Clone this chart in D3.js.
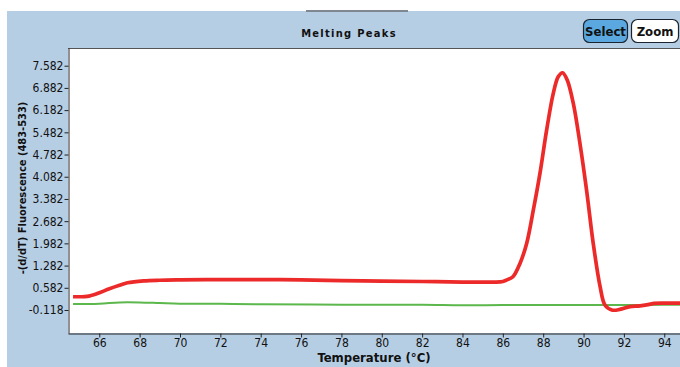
<!DOCTYPE html>
<html><head><meta charset="utf-8">
<script src="https://cdn.jsdelivr.net/npm/d3@7"></script>
<style>html,body{margin:0;padding:0;background:#fff;overflow:hidden}</style>
</head><body>
<script>
const xTicks = [66,68,70,72,74,76,78,80,82,84,86,88,90,92,94];
const yTickLabels = ["-0.118","0.582","1.282","1.982","2.682","3.382","4.082","4.782","5.482","6.182","6.882","7.582"];
const redTemp = [64.7,65.0,65.4,65.9,66.5,67.0,67.4,68.2,69,70,72,74,76,78,80,82,84,84.9,85.6,86.0,86.2,86.5,86.85,87.18,87.51,87.84,88.17,88.5,88.75,88.96,89.19,89.49,89.82,90.15,90.48,90.82,91.06,91.4,91.8,92.3,92.8,93.2,93.5,94.0,94.8];
const redVal = [0.30,0.30,0.31,0.40,0.55,0.66,0.74,0.80,0.82,0.83,0.84,0.84,0.83,0.81,0.79,0.78,0.76,0.76,0.76,0.78,0.83,0.93,1.35,1.98,3.03,4.19,5.55,6.71,7.24,7.36,7.13,6.40,5.14,3.66,1.98,0.62,0.04,-0.118,-0.10,-0.01,0.01,0.05,0.09,0.10,0.10];
const greenTemp = [64.7,66,67,68,69,70,72,74,78,82,84,86,88,90,92,94,94.8];
const greenVal = [0.07,0.08,0.12,0.12,0.10,0.08,0.08,0.06,0.05,0.05,0.03,0.04,0.04,0.04,0.04,0.05,0.05];

const W=680,H=367;
const svg=d3.select("body").append("svg").attr("width",W).attr("height",H);
const bg="#b6cee4";
svg.append("rect").attr("x",0).attr("y",0).attr("width",W).attr("height",H).attr("fill","#fff");
svg.append("rect").attr("x",7).attr("y",11).attr("width",W-7).attr("height",H-11).attr("fill",bg);
svg.append("line").attr("x1",306).attr("x2",408).attr("y1",11).attr("y2",11).attr("stroke","#7f8790").attr("stroke-width",2);

const L=68,R=680,T=48,B=333;
const x=d3.scaleLinear().domain([64.45,94.78]).range([L,R]);
const y=d3.scaleLinear().domain([-0.843,8.14]).range([B,T]);

svg.append("rect").attr("x",L).attr("y",T).attr("width",R-L).attr("height",B-T).attr("fill","#fff");
svg.append("line").attr("x1",L).attr("x2",R).attr("y1",T+0.5).attr("y2",T+0.5).attr("stroke","#555");

const font="'DejaVu Sans Condensed','Liberation Sans',Arial,sans-serif";

const yAx=d3.axisLeft(y).tickValues(yTickLabels.map(Number)).tickFormat((d,i)=>yTickLabels[i]).tickSize(4).tickSizeOuter(0).tickPadding(1);
const gy=svg.append("g").attr("transform",`translate(${L+0.5},0)`).call(yAx);
gy.selectAll("text").attr("font-family",font).attr("font-size",12).attr("fill","#111");
gy.selectAll("line,path").attr("stroke","#222");

const xAx=d3.axisBottom(x).tickValues(xTicks).tickSize(4).tickSizeOuter(0).tickPadding(1);
const gx=svg.append("g").attr("transform",`translate(0,${B+0.5})`).call(xAx);
gx.selectAll("text").attr("font-family",font).attr("font-size",12).attr("fill","#111");
gx.selectAll("line,path").attr("stroke","#222");

const line=d3.line().curve(d3.curveCatmullRom.alpha(0.5)).x(d=>x(d[0])).y(d=>y(d[1]));
svg.append("path").datum(greenTemp.map((t,i)=>[t,greenVal[i]])).attr("d",line).attr("fill","none").attr("stroke","#5cb84c").attr("stroke-width",2);
svg.append("path").datum(redTemp.map((t,i)=>[t,redVal[i]])).attr("d",line).attr("fill","none").attr("stroke","#ec2a2a").attr("stroke-width",3.7).attr("stroke-linejoin","round");

svg.append("text").attr("x",349).attr("y",37).attr("text-anchor","middle").attr("font-family","'DejaVu Sans Condensed',sans-serif").attr("font-weight","bold").attr("font-size",11).attr("letter-spacing",1.3).attr("fill","#111").text("Melting Peaks");
svg.append("text").attr("x",374).attr("y",362).attr("text-anchor","middle").attr("font-family",font).attr("font-weight","bold").attr("font-size",13).attr("fill","#111").text("Temperature (°C)");
svg.append("text").attr("transform","translate(26,188) rotate(-90)").attr("text-anchor","middle").attr("font-family",font).attr("font-weight","bold").attr("font-size",11).attr("fill","#111").text("-(d/dT) Fluorescence (483-533)");

// buttons
const btns=[{t:"Select",x:583,w:44,fill:"#5aa8df"},{t:"Zoom",x:631,w:47,fill:"#fff"}];
btns.forEach(b=>{
  svg.append("rect").attr("x",b.x+0.5).attr("y",19.5).attr("width",b.w).attr("height",23).attr("rx",6).attr("fill",b.fill).attr("stroke","#1a2430").attr("stroke-width",1.2);
  svg.append("text").attr("x",b.x+b.w/2+0.5).attr("y",36).attr("text-anchor","middle").attr("font-family",font).attr("font-weight","bold").attr("font-size",13).attr("fill","#111").text(b.t);
});
</script>
</body></html>
